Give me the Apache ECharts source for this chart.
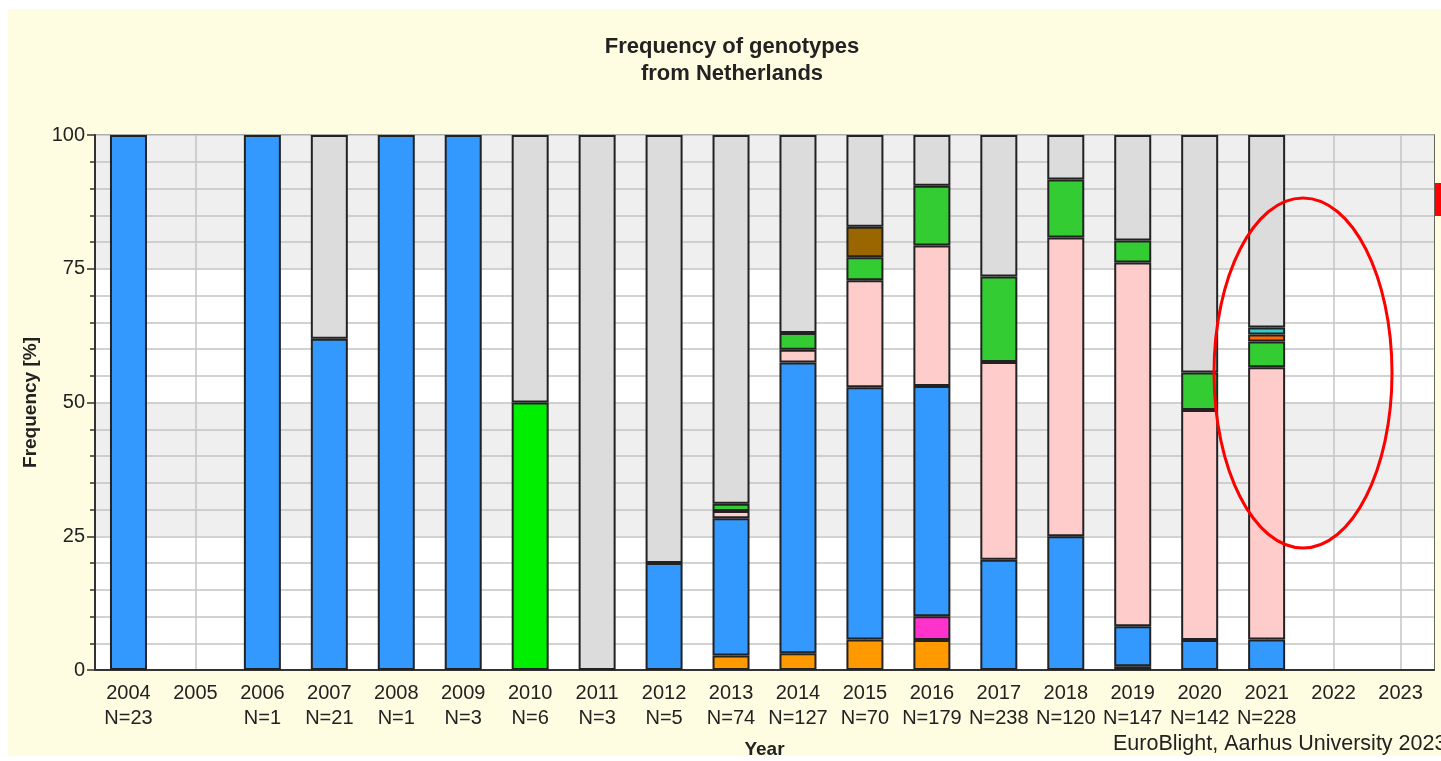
<!DOCTYPE html>
<html>
<head>
<meta charset="utf-8">
<script src="https://cdn.jsdelivr.net/npm/echarts@6/dist/echarts.min.js"></script>
<style>
html,body{margin:0;padding:0;background:#ffffff;width:1441px;height:761px;overflow:hidden;}
#bg{position:absolute;left:8px;top:9px;width:1433px;height:747px;background:#fefde2;}
#chart{position:absolute;left:0;top:0;width:1441px;height:761px;}
</style>
</head>
<body>
<div id="bg"></div>
<div id="chart"></div>
<script>
// Categories and sample sizes
const years = ['2004','2005','2006','2007','2008','2009','2010','2011','2012','2013','2014','2015','2016','2017','2018','2019','2020','2021','2022','2023'];
const sampleN = ['N=23','','N=1','N=21','N=1','N=3','N=6','N=3','N=5','N=74','N=127','N=70','N=179','N=238','N=120','N=147','N=142','N=228','',''];
const yTicks = [0, 25, 50, 75, 100];

// Genotype frequencies [%] per year (stacked bottom to top)
const darkBrownGeno = [null,null,null,null,null,null,null,null,null,null,null,null,null,null,null,0.68,null,null,null,null];
const orangeGeno    = [null,null,null,null,null,null,null,null,null,2.70,3.15,5.71,5.59,null,null,null,null,null,null,null];
const magentaGeno   = [null,null,null,null,null,null,null,null,null,null,null,null,4.47,null,null,null,null,null,null,null];
const blueGeno      = [100,null,100,61.9,100,100,null,null,20,25.68,54.33,47.14,43.02,20.59,25,7.48,5.63,5.70,null,null];
const limeGeno      = [null,null,null,null,null,null,50,null,null,null,null,null,null,null,null,null,null,null,null,null];
const pinkGeno      = [null,null,null,null,null,null,null,null,null,1.35,2.36,20.0,26.26,36.97,55.83,68.03,42.96,50.88,null,null];
const greenGeno     = [null,null,null,null,null,null,null,null,null,1.35,3.15,4.29,11.17,15.97,10.83,4.08,7.04,4.82,null,null];
const orangeRedGeno = [null,null,null,null,null,null,null,null,null,null,null,null,null,null,null,null,null,1.32,null,null];
const cyanGeno      = [null,null,null,null,null,null,null,null,null,null,null,null,null,null,null,null,null,1.32,null,null];
const brownGeno     = [null,null,null,null,null,null,null,null,null,null,null,5.71,null,null,null,null,null,null,null,null];
const otherGeno     = [null,null,null,38.1,null,null,50,100,80,68.92,37.01,17.14,9.50,26.47,8.33,19.73,44.37,35.96,null,null];

const seriesDefs = [
  ['Genotype dark brown', darkBrownGeno, '#663300'],
  ['Genotype orange', orangeGeno, '#ff9900'],
  ['Genotype magenta', magentaGeno, '#ff33cc'],
  ['Genotype blue', blueGeno, '#3399ff'],
  ['Genotype lime', limeGeno, '#00ee00'],
  ['Genotype pink', pinkGeno, '#ffcccc'],
  ['Genotype green', greenGeno, '#33cc33'],
  ['Genotype orange-red', orangeRedGeno, '#ff6600'],
  ['Genotype cyan', cyanGeno, '#33cccc'],
  ['Genotype brown', brownGeno, '#996600'],
  ['Other', otherGeno, '#dcdcdc']
];

const FONT = 'Liberation Sans, Arial, sans-serif';
const chart = echarts.init(document.getElementById('chart'));

chart.setOption({
  animation: false,
  title: {
    text: 'Frequency of genotypes\nfrom Netherlands',
    left: 727, top: 28, textAlign: 'center',
    textStyle: {fontFamily: FONT, fontSize: 22, fontWeight: 'bold', color: '#222', lineHeight: 27}
  },
  grid: {left: 95, top: 135, right: 7, bottom: 91, show: true, borderColor: '#333', borderWidth: 1.5, backgroundColor: 'transparent', outerBoundsMode: 'none', containLabel: false},
  xAxis: {
    type: 'category',
    data: years,
    name: 'Year',
    nameLocation: 'middle',
    nameGap: 70,
    nameTextStyle: {fontFamily: FONT, fontSize: 19, fontWeight: 'bold', color: '#222'},
    axisLine: {lineStyle: {color: '#333', width: 2}},
    axisTick: {alignWithLabel: true, length: 8, lineStyle: {color: '#333', width: 1.5}},
    splitLine: {show: true, alignWithLabel: true, lineStyle: {color: '#c4c4c4', width: 1.5}},
    axisLabel: {
      fontFamily: FONT, fontSize: 20, color: '#222', margin: 11, lineHeight: 25, interval: 0,
      formatter: function (v, i) { return v + '\n' + (sampleN[i] || ' '); }
    }
  },
  yAxis: {
    type: 'value',
    min: yTicks[0], max: yTicks[yTicks.length - 1], interval: 25,
    name: 'Frequency [%]',
    nameLocation: 'middle',
    nameGap: 55,
    nameTextStyle: {fontFamily: FONT, fontSize: 19, fontWeight: 'bold', color: '#222'},
    axisLine: {show: true, lineStyle: {color: '#333', width: 2}},
    axisTick: {show: true, length: 8, lineStyle: {color: '#333', width: 1.5}},
    minorTick: {show: true, splitNumber: 5, length: 5, lineStyle: {color: '#333', width: 1.5}},
    axisLabel: {fontFamily: FONT, fontSize: 20, color: '#222', margin: 10},
    splitLine: {show: true, lineStyle: {color: '#c4c4c4', width: 1.5}},
    minorSplitLine: {show: true, lineStyle: {color: '#c4c4c4', width: 1.5}},
    splitArea: {show: true, areaStyle: {color: ['#ffffff', '#efefef']}}
  },
  series: seriesDefs.map(function (d) {
    return {
      name: d[0], type: 'bar', stack: 'total', data: d[1], barWidth: 37,
      itemStyle: {color: d[2], borderColor: '#222', borderWidth: 2}
    };
  }),
  graphic: [
    {type: 'text', left: 1113, top: 733, style: {text: 'EuroBlight, Aarhus University 2023', fontFamily: FONT, fontSize: 21.5, fill: '#222'}},
    {type: 'ellipse', shape: {cx: 1303, cy: 373, rx: 89, ry: 175}, style: {fill: 'none', stroke: '#ff0000', lineWidth: 3}, z: 100},
    {type: 'rect', shape: {x: 1435, y: 183, width: 6, height: 33}, style: {fill: '#ff0000'}, z: 100}
  ]
});
</script>
</body>
</html>
